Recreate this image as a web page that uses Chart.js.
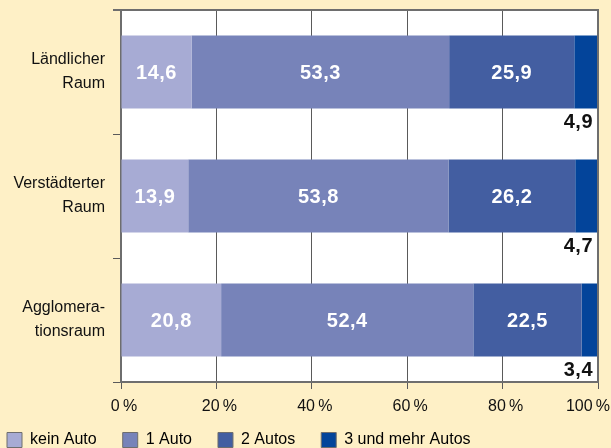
<!DOCTYPE html>
<html>
<head>
<meta charset="utf-8">
<script src="https://cdn.jsdelivr.net/npm/chart.js@4/dist/chart.umd.min.js"></script>
<style>
  html, body { margin: 0; padding: 0; background: #fef0c6; }
  #wrap { width: 611px; height: 448px; }
</style>
</head>
<body>
<div id="wrap"><canvas id="graph" width="611" height="448"></canvas></div>
<script>
const categories = [["Ländlicher", "Raum"], ["Verstädterter", "Raum"], ["Agglomera-", "tionsraum"]];
const seriesNames = ["kein Auto", "1 Auto", "2 Autos", "3 und mehr Autos"];
const keinAuto = [14.6, 13.9, 20.8];
const einAuto = [53.3, 53.8, 52.4];
const zweiAutos = [25.9, 26.2, 22.5];
const dreiUndMehr = [4.9, 4.7, 3.4];
const xTicks = [0, 20, 40, 60, 80, 100];

const colors = ["#a7abd4", "#7783b9", "#435ea1", "#03449a"];
const family = "'Liberation Sans', Arial, sans-serif";
const valueFont = "bold 20px 'Liberation Sans', Arial, sans-serif";
const tickFont = "16px 'Liberation Sans', Arial, sans-serif";

const rawSeries = [keinAuto, einAuto, zweiAutos, dreiUndMehr];
// each row is drawn as shares of its own total, so the bars span 0-100 %
const rowTotals = categories.map((_, i) => rawSeries.reduce((s, arr) => s + arr[i], 0));

const datasets = rawSeries.map((arr, k) => ({
    label: seriesNames[k],
    data: arr.map((v, i) => v / rowTotals[i] * 100),
    raw: arr,
    backgroundColor: colors[k],
    borderWidth: 0,
    barPercentage: 0.59,
    categoryPercentage: 1.0
}));

const fmt = v => v.toFixed(1).replace(".", ",");

// white plot area with a frame on top and right
const frame = {
    id: "frame",
    beforeDraw(chart) {
        const {ctx, chartArea: a} = chart;
        ctx.save();
        ctx.fillStyle = "#ffffff";
        ctx.fillRect(a.left, a.top, a.right - a.left, a.bottom - a.top);
        ctx.restore();
    },
    afterDraw(chart) {
        const {ctx, chartArea: a} = chart;
        ctx.save();
        ctx.strokeStyle = "#6e6e6e";
        ctx.lineWidth = 2;
        ctx.beginPath();
        ctx.moveTo(a.left - 8, a.top);
        ctx.lineTo(a.right, a.top);
        ctx.lineTo(a.right, a.bottom);
        ctx.stroke();
        ctx.restore();
    }
};

// percent labels under the x axis; the last one is kept inside the canvas
const xLabels = {
    id: "xLabels",
    afterDraw(chart) {
        const ctx = chart.ctx;
        const scale = chart.scales.x;
        const y = chart.chartArea.bottom + 25;
        ctx.save();
        ctx.font = tickFont;
        ctx.fillStyle = "#111111";
        ctx.textBaseline = "middle";
        ctx.textAlign = "left";
        xTicks.forEach(v => {
            const txt = v + "\u2009%";
            const px = scale.getPixelForValue(v);
            const w = ctx.measureText(txt).width;
            let left = px + 3 - w / 2;
            if (left + w > chart.width - 1) left = chart.width - 1 - w;
            ctx.fillText(txt, left, y);
        });
        ctx.restore();
    }
};

const valueLabels = {
    id: "valueLabels",
    afterDatasetsDraw(chart) {
        const ctx = chart.ctx;
        const a = chart.chartArea;
        ctx.save();
        ctx.font = valueFont;
        ctx.letterSpacing = "0.5px";
        ctx.textBaseline = "middle";
        chart.data.datasets.forEach((ds, k) => {
            const meta = chart.getDatasetMeta(k);
            meta.data.forEach((bar, i) => {
                const txt = fmt(ds.raw[i]);
                if (k < 3) {
                    ctx.fillStyle = "#ffffff";
                    ctx.textAlign = "center";
                    ctx.fillText(txt, (bar.x + bar.base) / 2, bar.y + 1);
                } else {
                    ctx.fillStyle = "#111111";
                    ctx.textAlign = "right";
                    ctx.fillText(txt, a.right - 5, bar.y + bar.height / 2 + 14);
                }
            });
        });
        ctx.restore();
    }
};

const ctx = document.getElementById("graph").getContext("2d");
new Chart(ctx, {
    type: "bar",
    data: {labels: categories, datasets: datasets},
    plugins: [frame, xLabels, valueLabels],
    options: {
        indexAxis: "y",
        responsive: false,
        animation: false,
        layout: {padding: {top: 10, right: 13, left: -19, bottom: 0}},
        scales: {
            x: {
                stacked: true,
                min: 0,
                max: 100,
                afterBuildTicks: scale => { scale.ticks = xTicks.map(v => ({value: v})); },
                afterFit: scale => {
                    scale.height = 24;
                    scale.paddingLeft = 0;
                    scale.paddingRight = 0;
                },
                grid: {color: "#5a5a5a", lineWidth: 1, tickLength: 7, drawTicks: true},
                border: {color: "#6e6e6e", width: 2},
                ticks: {display: false}
            },
            y: {
                stacked: true,
                afterFit: scale => {
                    scale.width = 140;
                    scale.paddingTop = 0;
                    scale.paddingBottom = 0;
                },
                grid: {offset: true, drawOnChartArea: false, color: "#5a5a5a", tickLength: 8},
                border: {color: "#6e6e6e", width: 2},
                ticks: {
                    color: "#111111",
                    font: {family: family, size: 16, lineHeight: 1.5},
                    padding: 8
                }
            }
        },
        plugins: {
            tooltip: {enabled: false},
            legend: {
                position: "bottom",
                align: "start",
                maxHeight: 42,
                labels: {
                    color: "#111111",
                    font: {family: family, size: 16},
                    boxWidth: 15,
                    boxHeight: 15,
                    padding: 26,
                    generateLabels: chart => chart.data.datasets.map((ds, k) => ({
                        text: ds.label,
                        fillStyle: ds.backgroundColor,
                        strokeStyle: "#6e6e6e",
                        lineWidth: 1,
                        datasetIndex: k
                    }))
                }
            }
        }
    }
});
</script>
</body>
</html>
